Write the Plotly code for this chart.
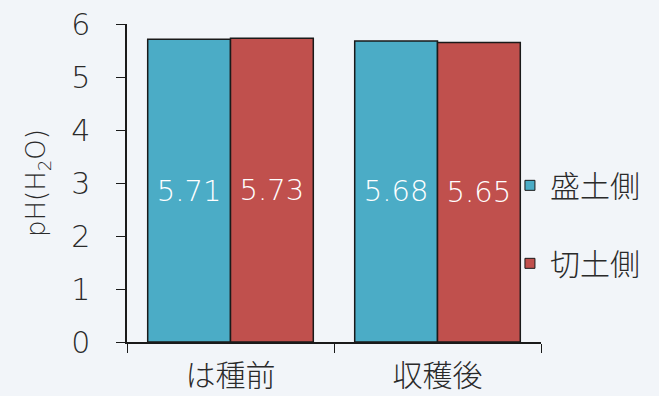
import plotly.graph_objects as go

categories = ["は種前", "収穫後"]
series_names = ["盛土側", "切土側"]
mori_values = [5.71, 5.68]
kiri_values = [5.73, 5.65]
colors = ["#4BACC6", "#C0504D"]

font_family = "DejaVu Sans, Noto Sans CJK JP, sans-serif"
cjk_family = "Noto Sans CJK JP, sans-serif"
text_color = "#2a2a2a"
fig = go.Figure()
for name, vals, col in zip(series_names, [mori_values, kiri_values], colors):
    fig.add_trace(go.Bar(
        x=categories, y=vals, name=name, showlegend=False,
        marker=dict(color=col, line=dict(color="#1a1a1a", width=1.5)),
        text=[f"{v:.2f}" for v in vals], textposition="inside",
        insidetextanchor="middle",
        textfont=dict(color="white", size=29, family=font_family, weight=300),
    ))
for name, col in zip(series_names, colors):
    fig.add_trace(go.Scatter(
        x=[None], y=[None], mode="markers", name=name, legendgroup=name,
        marker=dict(symbol="square", size=10, color=col,
                    line=dict(color="#1a1a1a", width=1)),
    ))

fig.update_layout(
    width=659, height=396,
    margin=dict(l=127, r=118, t=24, b=54, autoexpand=False),
    paper_bgcolor="#F2F5F9", plot_bgcolor="#F2F5F9",
    barmode="group", bargap=0.2, bargroupgap=0,
    font=dict(family=font_family, color=text_color, weight=300),
    showlegend=True,
    legend=dict(x=0.925, xanchor="left", y=0.37, yanchor="middle",
                font=dict(size=30, color=text_color, family=cjk_family, weight=300),
                tracegroupgap=36, bgcolor="rgba(0,0,0,0)"),
    yaxis=dict(range=[0, 6], dtick=1, showgrid=False, zeroline=False,
               showline=True, linecolor="#1a1a1a", linewidth=1.5,
               ticks="outside", ticklen=9, tickcolor="#1a1a1a",
               ticklabelstandoff=20,
               tickfont=dict(size=30, color=text_color, family=font_family, weight=300),
               title=dict(text="pH(H<sub>2</sub>O)",
                          font=dict(size=26, color=text_color, family=font_family, weight=300),
                          standoff=18)),
    xaxis=dict(showgrid=False, showline=True, linecolor="#1a1a1a", linewidth=1.5,
               ticks="outside", tickson="boundaries", ticklen=9, tickcolor="#1a1a1a",
               ticklabelstandoff=6,
               tickfont=dict(size=30, color=text_color, family=cjk_family, weight=300)),
)
fig.write_html("out.html", config={"displayModeBar": False},
               post_script="document.body.style.margin='0';document.body.style.overflow='hidden';")
